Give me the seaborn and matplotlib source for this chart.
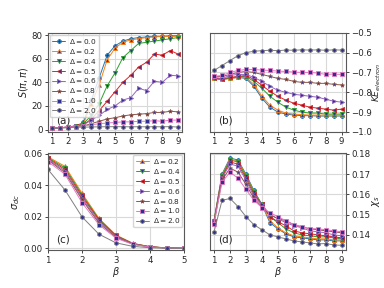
import numpy as np
import pandas as pd
import matplotlib
matplotlib.use("Agg")
import matplotlib.pyplot as plt
import seaborn as sns

# temperatures
beta = [1, 1.5, 2, 2.5, 3, 3.5, 4, 4.5, 5, 5.5, 6, 6.5, 7, 7.5, 8, 8.5, 9]
beta_c = [1, 1.5, 2, 2.5, 3, 3.5, 4, 4.5, 5]

deltas = ["0.0", "0.2", "0.4", "0.5", "0.6", "0.8", "1.0", "2.0"]
colors = ["tab:blue", "tab:orange", "tab:green", "tab:red", "tab:purple",
          "tab:brown", "tab:pink", "tab:gray"]
markers = ["P", "^", "v", "<", ">", "*", "s", "h"]

# (a) S(pi, pi)
s_pipi = {
    "0.0": [1, 1.5, 2, 3, 6, 25, 44, 63, 71, 75, 77, 78, 78.5, 79, 79, 79.5, 79.5],
    "0.2": [1, 1.5, 2, 3, 5, 22, 38, 59, 69, 74, 76, 77, 78, 78.5, 79, 79, 79],
    "0.4": [1, 1.5, 2, 3, 5, 12, 22, 37, 48, 61, 67, 73, 74, 75, 76, 77, 78],
    "0.5": [1, 1.5, 2, 3, 4, 9, 16, 24, 32, 40, 46, 53, 57, 64, 63, 67, 64],
    "0.6": [1, 1.5, 2, 3, 4, 8, 12, 17, 20, 25, 27, 35, 33, 41, 40, 46, 45.5],
    "0.8": [1, 1.5, 2, 2.5, 3, 5, 7, 9, 10, 11.5, 12.5, 13, 13.5, 14.5, 14.5, 15.5, 15],
    "1.0": [1, 1.5, 2, 2.5, 3, 4, 5, 5.5, 6, 6.5, 6.5, 7, 7, 7.5, 7, 8, 8],
    "2.0": [1, 1.2, 1.5, 2, 2, 2.2, 2.3, 2.4, 2.4, 2.4, 2.3, 2.4, 2.3, 2.4, 2.3, 2.5, 2.1],
}

# (b) kinetic energy
ke = {
    "0.0": [-0.73, -0.735, -0.73, -0.725, -0.73, -0.77, -0.83, -0.875, -0.90, -0.91, -0.915, -0.918, -0.918, -0.92, -0.92, -0.92, -0.92],
    "0.2": [-0.73, -0.735, -0.73, -0.725, -0.725, -0.76, -0.82, -0.865, -0.89, -0.905, -0.91, -0.913, -0.915, -0.915, -0.915, -0.915, -0.915],
    "0.4": [-0.73, -0.735, -0.728, -0.722, -0.72, -0.745, -0.78, -0.82, -0.85, -0.875, -0.89, -0.90, -0.905, -0.905, -0.91, -0.91, -0.91],
    "0.5": [-0.73, -0.732, -0.725, -0.72, -0.715, -0.735, -0.765, -0.795, -0.82, -0.84, -0.855, -0.865, -0.875, -0.88, -0.885, -0.89, -0.885],
    "0.6": [-0.725, -0.73, -0.715, -0.71, -0.71, -0.725, -0.745, -0.77, -0.79, -0.80, -0.81, -0.815, -0.82, -0.825, -0.835, -0.845, -0.85],
    "0.8": [-0.72, -0.72, -0.71, -0.70, -0.695, -0.70, -0.71, -0.72, -0.73, -0.735, -0.745, -0.75, -0.75, -0.755, -0.755, -0.76, -0.763],
    "1.0": [-0.72, -0.715, -0.70, -0.69, -0.685, -0.685, -0.688, -0.69, -0.693, -0.695, -0.698, -0.70, -0.70, -0.703, -0.71, -0.708, -0.71],
    "2.0": [-0.69, -0.665, -0.64, -0.615, -0.60, -0.593, -0.59, -0.588, -0.59, -0.587, -0.588, -0.586, -0.587, -0.586, -0.588, -0.586, -0.587],
}

# (c) dc conductivity
sigma_dc = {
    "0.2": [0.058, 0.052, 0.035, 0.019, 0.0085, 0.0032, 0.0011, 0.0003, 0.0001],
    "0.4": [0.0575, 0.051, 0.034, 0.0185, 0.0082, 0.0031, 0.001, 0.0003, 0.0001],
    "0.5": [0.057, 0.050, 0.033, 0.018, 0.0078, 0.003, 0.001, 0.0003, 0.0001],
    "0.6": [0.0565, 0.049, 0.032, 0.017, 0.0075, 0.0029, 0.001, 0.0003, 0.0001],
    "0.8": [0.056, 0.048, 0.031, 0.016, 0.007, 0.0027, 0.0009, 0.0003, 0.0001],
    "1.0": [0.055, 0.047, 0.029, 0.015, 0.0065, 0.0025, 0.0008, 0.0002, 0.0001],
    "2.0": [0.050, 0.037, 0.020, 0.009, 0.0035, 0.0013, 0.0004, 0.0001, 0.0],
}

# (d) spin susceptibility
chi_s = {
    "0.0": [0.147, 0.170, 0.178, 0.177, 0.170, 0.162, 0.155, 0.146, 0.143, 0.1405, 0.139, 0.1385, 0.138, 0.1375, 0.1375, 0.137, 0.137],
    "0.2": [0.147, 0.1695, 0.1775, 0.1765, 0.1695, 0.1615, 0.155, 0.147, 0.1435, 0.141, 0.1395, 0.139, 0.1385, 0.138, 0.138, 0.1375, 0.1375],
    "0.4": [0.147, 0.169, 0.177, 0.176, 0.169, 0.161, 0.155, 0.149, 0.146, 0.143, 0.141, 0.140, 0.1395, 0.139, 0.139, 0.1385, 0.138],
    "0.5": [0.1465, 0.1685, 0.176, 0.175, 0.168, 0.160, 0.155, 0.149, 0.1465, 0.1445, 0.142, 0.141, 0.1405, 0.140, 0.1395, 0.139, 0.1385],
    "0.6": [0.1465, 0.168, 0.175, 0.174, 0.167, 0.159, 0.155, 0.150, 0.148, 0.146, 0.1445, 0.1435, 0.142, 0.1415, 0.141, 0.140, 0.1395],
    "0.8": [0.146, 0.167, 0.173, 0.171, 0.165, 0.158, 0.154, 0.150, 0.148, 0.147, 0.145, 0.144, 0.143, 0.1425, 0.142, 0.1415, 0.141],
    "1.0": [0.1455, 0.166, 0.171, 0.168, 0.1625, 0.157, 0.1535, 0.151, 0.149, 0.147, 0.145, 0.144, 0.143, 0.143, 0.1425, 0.142, 0.1415],
    "2.0": [0.1415, 0.157, 0.158, 0.154, 0.149, 0.145, 0.1425, 0.140, 0.139, 0.138, 0.137, 0.1365, 0.136, 0.1355, 0.1357, 0.135, 0.1348],
}

sns.set_theme(style="whitegrid", rc={
    "axes.edgecolor": "0.35", "axes.linewidth": 0.8,
    "grid.color": "0.85", "grid.linewidth": 0.8,
    "xtick.bottom": True, "ytick.left": True,
    "xtick.major.size": 2.5, "ytick.major.size": 2.5,
    "xtick.major.width": 0.6, "ytick.major.width": 0.6,
    "xtick.labelsize": 6.2, "ytick.labelsize": 6.2,
    "axes.labelsize": 7, "xtick.major.pad": 1.5, "ytick.major.pad": 1.5,
})
plt.rcParams["font.family"] = ["DejaVu Sans"]

fig = plt.figure(figsize=(3.84, 2.88), dpi=100)
ax_a = fig.add_axes([0.125, 0.542, 0.349, 0.344])
ax_b = fig.add_axes([0.547, 0.542, 0.353, 0.344])
ax_c = fig.add_axes([0.125, 0.132, 0.354, 0.337])
ax_d = fig.add_axes([0.547, 0.132, 0.353, 0.337])


def draw(ax, x, data):
    for d, c, m in zip(deltas, colors, markers):
        if d not in data:
            continue
        sns.lineplot(x=x, y=data[d], ax=ax, color=c, marker=m, markersize=3,
                     markerfacecolor="#30308f", markeredgecolor=c,
                     markeredgewidth=0.6, linewidth=0.7,
                     label=r"$\Delta = $" + d)


draw(ax_a, beta, s_pipi)
draw(ax_b, beta, ke)
draw(ax_c, beta_c, sigma_dc)
draw(ax_d, beta, chi_s)

for ax in (ax_a, ax_b, ax_d):
    ax.set_xlim(0.75, 9.25)
    ax.set_xticks(range(1, 10))

leg_kw = dict(fontsize=5.3, handlelength=1.8, labelspacing=0.12,
              borderpad=0.3, handletextpad=0.5, borderaxespad=0.25)

ax_a.set_ylim(-2, 82)
ax_a.set_yticks([0, 20, 40, 60, 80])
ax_a.set_ylabel(r"$S(\pi,\pi)$", labelpad=1)
ax_a.legend(loc="upper left", **leg_kw)

ax_b.set_ylim(-1.0, -0.5)
ax_b.set_yticks([-1.0, -0.9, -0.8, -0.7, -0.6, -0.5])
ax_b.yaxis.tick_right()
ax_b.yaxis.set_label_position("right")
ax_b.set_ylabel(r"$KE_{electron}$", labelpad=-1, rotation=90, fontsize=6.5)
ax_b.get_legend().remove()

ax_c.set_xlim(1, 5)
ax_c.set_ylim(-0.001, 0.0605)
ax_c.set_yticks([0.0, 0.02, 0.04, 0.06])
ax_c.set_yticklabels(["0.00", "0.02", "0.04", "0.06"])
ax_c.set_xlabel(r"$\beta$", labelpad=0)
ax_c.set_ylabel(r"$\sigma_{dc}$", labelpad=1)
ax_c.legend(loc="upper right", **leg_kw)

ax_d.set_ylim(0.1325, 0.1805)
ax_d.set_yticks([0.14, 0.15, 0.16, 0.17, 0.18])
ax_d.yaxis.tick_right()
ax_d.yaxis.set_label_position("right")
ax_d.set_xlabel(r"$\beta$", labelpad=0)
ax_d.set_ylabel(r"$\chi_s$", labelpad=0, rotation=90)
ax_d.get_legend().remove()

for ax, lab in zip((ax_a, ax_b, ax_c, ax_d), ("(a)", "(b)", "(c)", "(d)")):
    ax.text(0.06, 0.08, lab, transform=ax.transAxes, fontsize=7.5)

fig.savefig("out.png", dpi=100)
